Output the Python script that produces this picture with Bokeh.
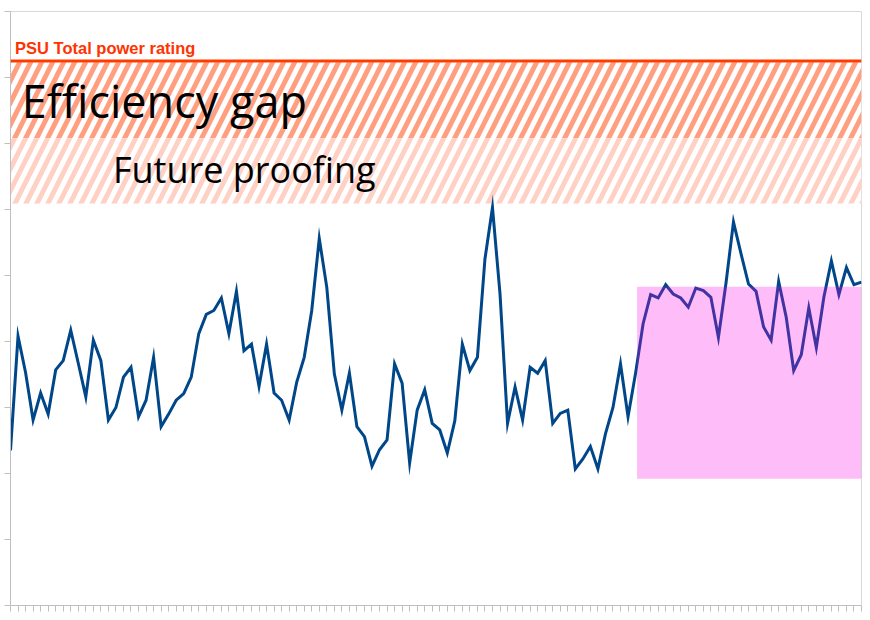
import numpy as np
from bokeh.plotting import figure
from bokeh.models import Range1d, FixedTicker, Label, Span, ColumnDataSource
from bokeh.embed import file_html
from bokeh.resources import INLINE
from bokeh.core.properties import value

# ---- data ----
power = [235, 408, 353, 281, 322, 290, 357, 371, 417, 367,
         316, 402, 371, 281, 300, 346, 361, 286, 311, 376,
         271, 290, 311, 321, 346, 412, 441, 447, 466, 412,
         476, 386, 396, 332, 396, 322, 311, 281, 338, 376,
         447, 556, 482, 351, 296, 352, 271, 256, 211, 236,
         251, 366, 337, 216, 296, 327, 276, 266, 231, 280,
         396, 356, 376, 525, 603, 472, 276, 331, 281, 361,
         352, 371, 276, 291, 296, 207, 222, 241, 207, 260,
         300, 366, 286, 352, 427, 471, 466, 486, 472, 466,
         452, 481, 477, 467, 406, 488, 581, 533, 487, 476,
         422, 402, 491, 437, 356, 380, 451, 391, 467, 522,
         471, 512, 486, 490]
idx = list(range(len(power)))

psu_rating = 825
band_labels = ["Efficiency gap", "Future proofing"]
band_low = [708, 609]
band_high = [823, 708]
highlight_x = [83.2, 113]
highlight_y = [192, 483]
y_ticks = [0, 100, 200, 300, 400, 500, 600, 700, 800, 900]

# ---- figure ----
p = figure(width=868, height=618, output_backend="svg", toolbar_location=None,
           x_range=Range1d(0, len(power) - 1), y_range=Range1d(0, 900),
           min_border_left=10, min_border_right=7, min_border_top=11,
           min_border_bottom=13)
p.background_fill_color = "white"
p.border_fill_color = "white"
p.outline_line_color = "#d9d9d9"
p.outline_line_width = 1
p.xgrid.visible = False
p.ygrid.visible = False

for ax in (p.xaxis[0], p.yaxis[0]):
    ax.axis_line_color = "#bfbfbf"
    ax.major_tick_line_color = "#bfbfbf"
    ax.minor_tick_line_color = None
    ax.major_tick_in = 0
    ax.major_tick_out = 6
    ax.major_label_text_font_size = "1px"
    ax.major_label_text_color = None
    ax.major_label_standoff = 0
p.xaxis.ticker = FixedTicker(ticks=idx)
p.yaxis.ticker = FixedTicker(ticks=y_ticks)

# hatched bands
band_src = ColumnDataSource(dict(bottom=band_low, top=band_high,
                                 hatch=["#ff9f80", "#ffd0c4"],
                                 name=band_labels))
p.quad(left=0, right=len(power) - 1, bottom="bottom", top="top", source=band_src,
       fill_color="white", line_color=None,
       hatch_pattern="/", hatch_color="hatch", hatch_scale=22, hatch_weight=5)

p.add_layout(Span(location=psu_rating, dimension="width",
                  line_color="#ff3c00", line_width=3))

# series line
p.line(idx, power, line_color="#00478a", line_width=3, line_join="miter")

# highlight box
p.quad(left=[highlight_x[0]], right=[highlight_x[1]], bottom=[highlight_y[0]],
       top=[highlight_y[1]], fill_color="#fa00e6", fill_alpha=0.26, line_color=None)

# labels
p.add_layout(Label(x=0.6, y=844, text="PSU Total power rating",
                   text_font="Liberation Sans", text_font_style="bold",
                   text_font_size="16.5px", text_color="#ff3300",
                   text_baseline="alphabetic"))
p.add_layout(Label(x=1.5, y=765, text=band_labels[0],
                   text_font="Open Sans", text_font_size="45px",
                   text_color="black", text_baseline="alphabetic"))
p.add_layout(Label(x=13.6, y=660, text=band_labels[1],
                   text_font="Open Sans", text_font_size="36px",
                   text_color="black", text_baseline="alphabetic"))

open("out.html", "w").write(file_html(p, INLINE))
